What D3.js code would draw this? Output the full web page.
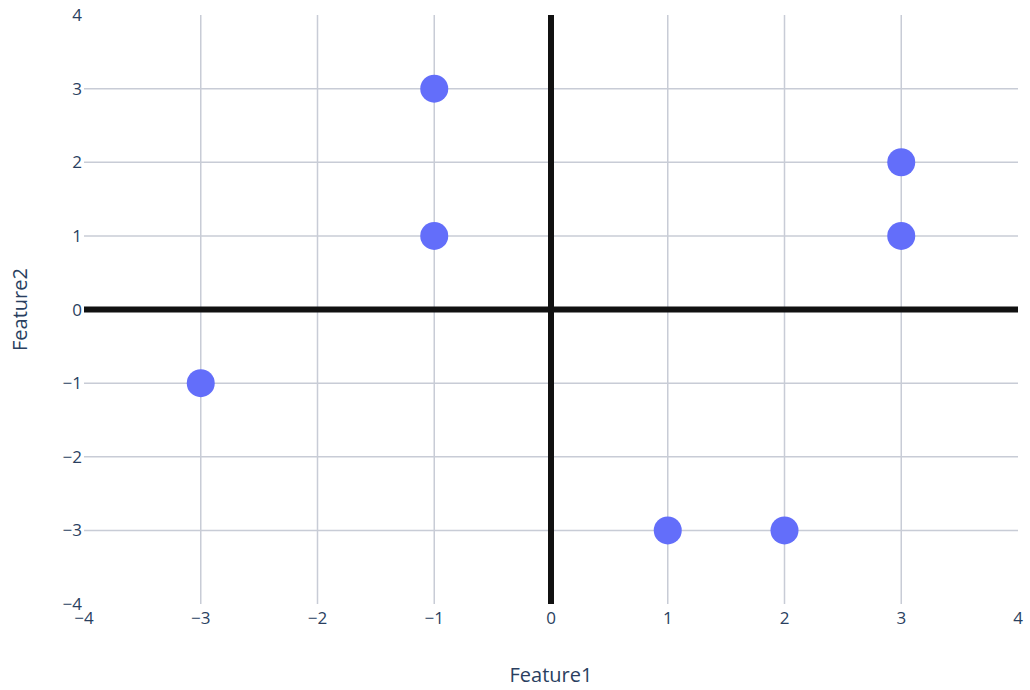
<!DOCTYPE html>
<html>
<head>
<meta charset="utf-8">
<script src="https://cdn.jsdelivr.net/npm/d3@7"></script>
<style>
  body { margin: 0; background: #fff; }
  text { font-family: "Open Sans", verdana, arial, sans-serif; fill: #2a3f5f; }
</style>
</head>
<body>
<div id="chart"></div>
<script>
var width = 1030, height = 690;
var margin = {top: 15, right: 12, bottom: 86, left: 84};

// data
var feature1 = [-1, -1, 3, 3, -3, 1, 2];
var feature2 = [3, 1, 2, 1, -1, -3, -3];
var xTicks = [-4, -3, -2, -1, 0, 1, 2, 3, 4];
var yTicks = [-4, -3, -2, -1, 0, 1, 2, 3, 4];

var svg = d3.select('#chart').append('svg')
    .attr('width', width)
    .attr('height', height);

var w = width - margin.left - margin.right;
var h = height - margin.top - margin.bottom;

var xScale = d3.scaleLinear().domain([-4, 4]).range([margin.left, margin.left + w]);
var yScale = d3.scaleLinear().domain([-4, 4]).range([margin.top + h, margin.top]);

var fmt = function(d) { return String(d).replace('-', '\u2212'); };

// grid lines (not on the edges)
svg.append('g').selectAll('line')
    .data(xTicks.filter(function(d) { return d > -4 && d < 4; }))
    .enter().append('line')
      .attr('x1', function(d) { return xScale(d); })
      .attr('x2', function(d) { return xScale(d); })
      .attr('y1', yScale(4))
      .attr('y2', yScale(-4))
      .attr('stroke', '#c8ccd6')
      .attr('stroke-width', 1.5);

svg.append('g').selectAll('line')
    .data(yTicks.filter(function(d) { return d > -4 && d < 4; }))
    .enter().append('line')
      .attr('y1', function(d) { return yScale(d); })
      .attr('y2', function(d) { return yScale(d); })
      .attr('x1', xScale(-4))
      .attr('x2', xScale(4))
      .attr('stroke', '#c8ccd6')
      .attr('stroke-width', 1.5);

// zero lines
svg.append('line')
    .attr('x1', xScale(-4)).attr('x2', xScale(4))
    .attr('y1', yScale(0)).attr('y2', yScale(0))
    .attr('stroke', '#111').attr('stroke-width', 6);
svg.append('line')
    .attr('x1', xScale(0)).attr('x2', xScale(0))
    .attr('y1', yScale(4)).attr('y2', yScale(-4))
    .attr('stroke', '#111').attr('stroke-width', 6);

// tick labels
svg.append('g').selectAll('text')
    .data(xTicks)
    .enter().append('text')
      .attr('x', function(d) { return xScale(d); })
      .attr('y', 624)
      .attr('text-anchor', 'middle')
      .style('font-size', '17px')
      .text(fmt);

svg.append('g').selectAll('text')
    .data(yTicks)
    .enter().append('text')
      .attr('x', 82)
      .attr('y', function(d) { return yScale(d); })
      .attr('dy', '0.36em')
      .attr('text-anchor', 'end')
      .style('font-size', '17px')
      .text(fmt);

// points
svg.append('g').selectAll('circle')
    .data(feature1)
    .enter().append('circle')
      .attr('cx', function(d) { return xScale(d); })
      .attr('cy', function(d, i) { return yScale(feature2[i]); })
      .attr('r', 14)
      .attr('fill', '#636efa');

// axis titles
svg.append('text')
    .attr('x', xScale(0))
    .attr('y', 682)
    .attr('text-anchor', 'middle')
    .style('font-size', '20px')
    .text('Feature1');

svg.append('text')
    .attr('transform', 'translate(27,' + yScale(0) + ') rotate(-90)')
    .attr('text-anchor', 'middle')
    .style('font-size', '20px')
    .text('Feature2');
</script>
</body>
</html>
